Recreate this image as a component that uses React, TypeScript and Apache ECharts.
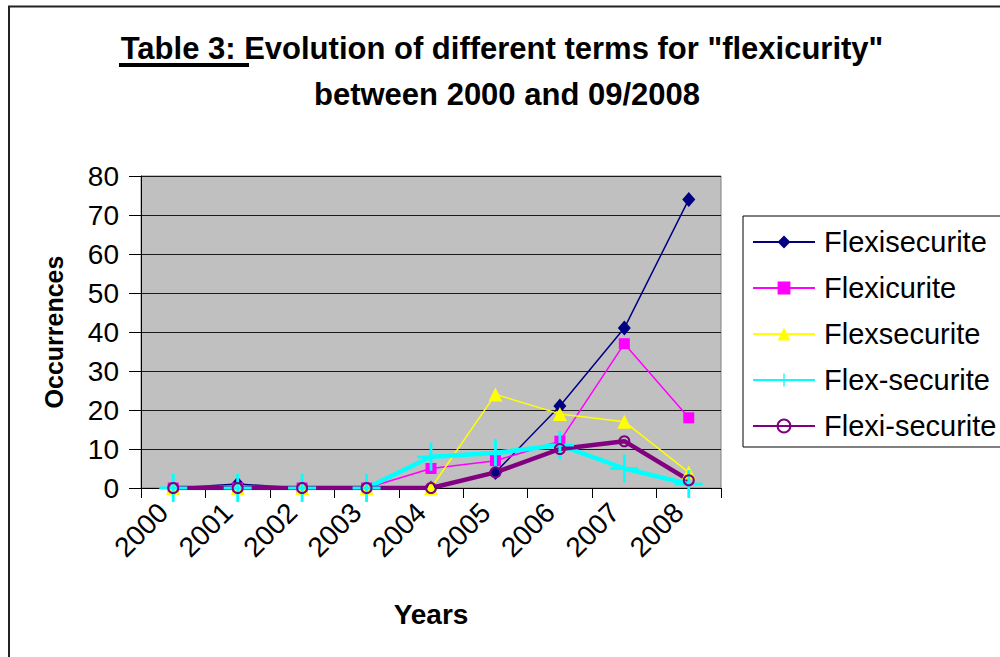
import React, { useEffect, useRef } from "react";
import * as echarts from "echarts";

const categories = ["2000", "2001", "2002", "2003", "2004", "2005", "2006", "2007", "2008"];
const flexisecurite = [0, 1, 0, 0, 0, 4, 21, 41, 74];
const flexicurite = [0, 0, 0, 0, 5, 7, 12, 37, 18];
const flexsecurite = [0, 0, 0, 0, 0, 24, 19, 17, 4];
const flexDashSecurite = [0, 0, 0, 0, 8, 9, 11, 5, 1];
const flexiDashSecurite = [0, 0, 0, 0, 0, 4, 10, 12, 2];
const yMin = 0;
const yMax = 80;
const yInterval = 10;

const FONT = "'Liberation Sans', Arial, sans-serif";
const PLUS = "path://M9,0L11,0L11,20L9,20Z M0,9L20,9L20,11L0,11Z";

export default function App() {
  const ref = useRef<HTMLDivElement>(null);
  useEffect(() => {
    if (!ref.current) return;
    const chart = echarts.init(ref.current, null, { renderer: "svg" });
    const option = {
      animation: false,
      backgroundColor: "#fff",
      textStyle: { fontFamily: FONT },
      graphic: [
        {
          type: "rect",
          shape: { x: 9, y: 6.5, width: 1100, height: 800 },
          style: { fill: "none", stroke: "#222", lineWidth: 2 },
          silent: true,
        },
        {
          type: "text",
          x: 502,
          y: 48,
          style: {
            text: 'Table 3: Evolution of different terms for "flexicurity"',
            font: `bold 31px ${FONT}`,
            fill: "#000",
            align: "center",
            verticalAlign: "middle",
          },
        },
        {
          type: "rect",
          shape: { x: 119, y: 63, width: 130, height: 4 },
          style: { fill: "#000" },
        },
        {
          type: "text",
          x: 507,
          y: 94,
          style: {
            text: "between 2000 and 09/2008",
            font: `bold 31px ${FONT}`,
            fill: "#000",
            align: "center",
            verticalAlign: "middle",
          },
        },
      ],
      grid: {
        left: 141,
        right: 279,
        top: 176,
        bottom: 169,
        show: true,
        backgroundColor: "#C0C0C0",
        borderColor: "#808080",
        borderWidth: 1,
      },
      legend: {
        orient: "vertical",
        left: 743,
        top: 216,
        padding: [11, 20, 6, 9],
        itemWidth: 62,
        itemHeight: 16,
        itemGap: 16,
        borderColor: "#000",
        borderWidth: 1,
        backgroundColor: "#fff",
        textStyle: { fontSize: 29, color: "#000", fontFamily: FONT, lineHeight: 30, padding: [0, 0, 0, 4] },
        data: ["Flexisecurite", "Flexicurite", "Flexsecurite", "Flex-securite", "Flexi-securite"],
      },
      xAxis: {
        type: "category",
        data: categories,
        boundaryGap: true,
        name: "Years",
        nameLocation: "middle",
        nameGap: 112,
        nameTextStyle: { fontSize: 28, fontWeight: "bold", color: "#000", fontFamily: FONT },
        axisLine: { show: true, lineStyle: { color: "#000", width: 1 } },
        axisTick: { show: true, length: 10, lineStyle: { color: "#000" } },
        axisLabel: {
          rotate: 45,
          fontSize: 28,
          color: "#000",
          margin: 10,
          padding: [0, 14, 0, 0],
          fontFamily: FONT,
          interval: 0,
        },
        splitLine: { show: false },
      },
      yAxis: {
        type: "value",
        min: yMin,
        max: yMax,
        interval: yInterval,
        name: "Occurrences",
        nameLocation: "middle",
        nameRotate: 90,
        nameGap: 75,
        nameTextStyle: { fontSize: 25, fontWeight: "bold", color: "#000", fontFamily: FONT },
        axisLine: { show: true, lineStyle: { color: "#000", width: 1 } },
        axisTick: { show: true, length: 12, lineStyle: { color: "#000" } },
        axisLabel: { fontSize: 28, color: "#000", margin: 22, fontFamily: FONT },
        splitLine: { show: true, lineStyle: { color: "#1a1a1a", width: 1 } },
      },
      series: [
        {
          name: "Flexisecurite",
          type: "line",
          data: flexisecurite,
          symbol: "diamond",
          symbolSize: [13, 15],
          lineStyle: { color: "#000080", width: 1.5 },
          itemStyle: { color: "#000080" },
        },
        {
          name: "Flexicurite",
          type: "line",
          data: flexicurite,
          symbol: "rect",
          symbolSize: 11,
          lineStyle: { color: "#FF00FF", width: 1.5 },
          itemStyle: { color: "#FF00FF" },
        },
        {
          name: "Flexsecurite",
          type: "line",
          data: flexsecurite,
          symbol: "triangle",
          symbolSize: 14,
          lineStyle: { color: "#FFFF00", width: 1.5 },
          itemStyle: { color: "#FFFF00" },
        },
        {
          name: "Flex-securite",
          type: "line",
          data: flexDashSecurite,
          symbol: PLUS,
          symbolSize: 28,
          lineStyle: { color: "#00FFFF", width: 4.5 },
          itemStyle: { color: "#00FFFF" },
        },
        {
          name: "Flexi-securite",
          type: "line",
          data: flexiDashSecurite,
          symbol: "circle",
          symbolSize: 10,
          lineStyle: { color: "#800080", width: 4.5 },
          itemStyle: { color: "rgba(0,0,0,0)", borderColor: "#800080", borderWidth: 2 },
        },
      ],
    };
    chart.setOption(option as any);
    return () => chart.dispose();
  }, []);
  return (
    <div
      ref={ref}
      style={{ position: "fixed", left: 0, top: 0, width: 1000, height: 657 }}
    />
  );
}
